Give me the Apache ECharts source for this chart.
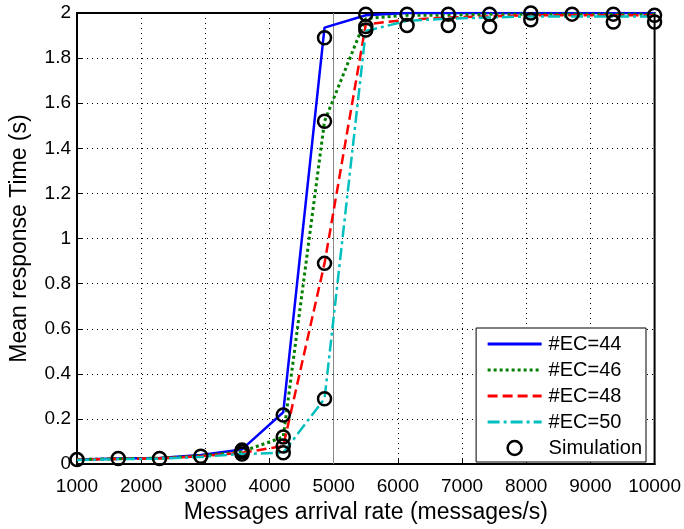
<!DOCTYPE html>
<html>
<head>
<meta charset="utf-8">
<script src="https://cdn.jsdelivr.net/npm/echarts@6/dist/echarts.min.js"></script>
<style>
  html, body { margin: 0; padding: 0; background: #fff; }
  #chart { width: 684px; height: 529px; }
</style>
</head>
<body>
<div id="chart"></div>
<script>
// message arrival rates (messages/s)
const rates = [1000, 1643, 2286, 2929, 3571, 4214, 4857, 5500, 6143, 6786, 7429, 8071, 8714, 9357, 10000];
// mean response time (s) per number of EC
const ec44 = [0.02, 0.025, 0.027, 0.04, 0.065, 0.23, 1.935, 1.99, 2.0, 2.0, 2.0, 2.0, 2.0, 2.0, 2.0];
const ec46 = [0.02, 0.024, 0.026, 0.037, 0.055, 0.12, 1.52, 1.975, 1.99, 1.99, 1.995, 1.995, 1.995, 1.995, 1.995];
const ec48 = [0.02, 0.023, 0.025, 0.035, 0.05, 0.08, 0.89, 1.95, 1.97, 1.98, 1.985, 1.99, 1.99, 1.99, 1.99];
const ec50 = [0.018, 0.022, 0.024, 0.032, 0.045, 0.05, 0.29, 1.92, 1.965, 1.975, 1.98, 1.985, 1.985, 1.985, 1.985];
// simulation points
const simX = [1000, 1643, 2286, 2929, 3571, 3571, 3571, 4214, 4214, 4214, 4214,
              4857, 4857, 4857, 4857, 5500, 5500, 5500, 6143, 6143, 6786, 6786,
              7429, 7429, 8071, 8071, 8714, 9357, 9357, 10000, 10000];
const simY = [0.02, 0.025, 0.025, 0.035, 0.045, 0.055, 0.062, 0.218, 0.12, 0.08, 0.05,
              1.89, 1.52, 0.89, 0.29, 1.995, 1.94, 1.925, 1.995, 1.945, 1.995, 1.945,
              1.995, 1.94, 2.0, 1.97, 1.995, 1.995, 1.96, 1.99, 1.96];
const names = ['#EC=44', '#EC=46', '#EC=48', '#EC=50'];
const colors = ['#0000ff', '#008000', '#ff0000', '#00bfbf'];
const dashes = ['solid', [3, 3], [10, 5], [12, 4, 3, 4]];

const font = 'Liberation Sans, Arial, sans-serif';
const chart = echarts.init(document.getElementById('chart'));

const lineSeries = [ec44, ec46, ec48, ec50].map((ys, i) => ({
    name: names[i],
    type: 'line',
    symbol: 'none',
    data: ys.map((y, k) => [rates[k], y]),
    lineStyle: { color: colors[i], width: i === 1 ? 3 : 2.5, type: dashes[i] },
    itemStyle: { color: colors[i] },
    z: 3
}));
// odd solid line at 5000 in the original figure
lineSeries[0].markLine = {
    silent: true,
    symbol: 'none',
    label: { show: false },
    lineStyle: { color: '#888', width: 1, type: 'solid' },
    data: [{ xAxis: 5000 }],
    z: 1
};

chart.setOption({
    animation: false,
    backgroundColor: '#fff',
    textStyle: { fontFamily: font },
    grid: {
        left: 76.5, top: 13, right: 28, bottom: 63,
        show: true, borderColor: '#000', borderWidth: 2
    },
    xAxis: {
        type: 'value', min: 1000, max: 10000, interval: 1000,
        name: 'Messages arrival rate (messages/s)',
        nameLocation: 'middle', nameGap: 34,
        nameTextStyle: { fontSize: 23, color: '#000', fontFamily: font },
        axisLine: { lineStyle: { color: '#000', width: 2 } },
        axisTick: { inside: true, length: 5, lineStyle: { color: '#000' } },
        axisLabel: { fontSize: 19, color: '#000', margin: 13, formatter: v => String(v) },
        splitLine: { lineStyle: { color: '#000', type: [1, 4], width: 1 } }
    },
    yAxis: {
        type: 'value', min: 0, max: 2, interval: 0.2,
        name: 'Mean response Time (s)',
        nameLocation: 'middle', nameGap: 46,
        nameTextStyle: { fontSize: 23, color: '#000', fontFamily: font },
        axisLine: { lineStyle: { color: '#000', width: 2 } },
        axisTick: { inside: true, length: 5, lineStyle: { color: '#000' } },
        axisLabel: { fontSize: 19, color: '#000', margin: 6 },
        splitLine: { lineStyle: { color: '#000', type: [1, 4], width: 1 } }
    },
    legend: {
        orient: 'vertical',
        right: 38, bottom: 67,
        backgroundColor: '#fff',
        borderColor: '#000', borderWidth: 1,
        borderRadius: 0,
        padding: [6, 4, 4, 10],
        itemWidth: 54, itemHeight: 14, itemGap: 6,
        itemStyle: { opacity: 0 },
        lineStyle: { width: 3 },
        textStyle: { fontSize: 20, color: '#000', fontFamily: font, padding: [0, 0, 0, 2] },
        data: names.concat([{
            name: 'Simulation', icon: 'circle',
            itemStyle: { opacity: 1, color: 'none', borderColor: '#000', borderWidth: 2.5 }
        }])
    },
    series: lineSeries.concat([{
        name: 'Simulation',
        type: 'scatter',
        symbol: 'circle',
        symbolSize: 13,
        data: simX.map((x, k) => [x, simY[k]]),
        itemStyle: { color: 'none', borderColor: '#000', borderWidth: 2.5, opacity: 1 },
        z: 4
    }])
});
</script>
</body>
</html>
